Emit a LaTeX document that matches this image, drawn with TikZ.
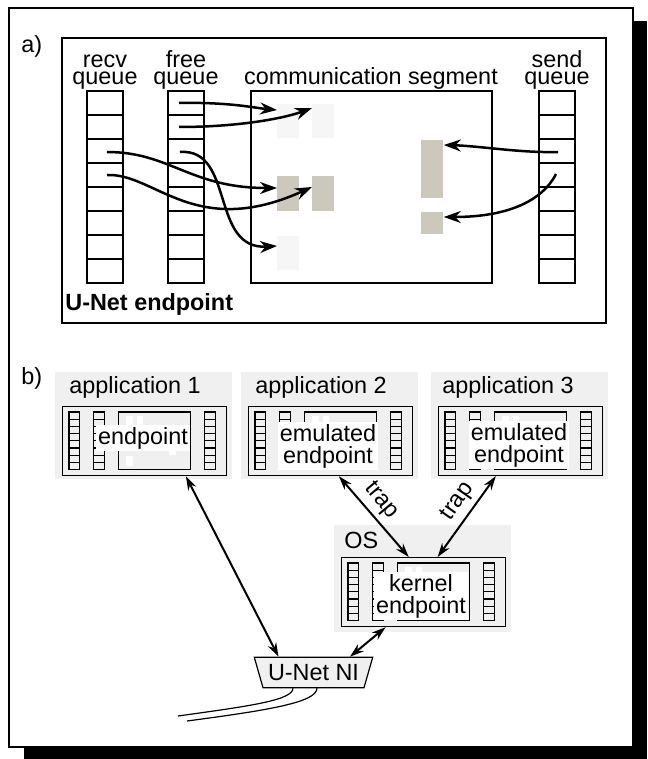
\documentclass[tikz,border=0pt]{standalone}
\usepackage{fontspec}
\setmainfont{Liberation Sans}
\usetikzlibrary{arrows.meta,calc,shapes.geometric}

\definecolor{appgray}{gray}{0.94}
\definecolor{lightblk}{gray}{0.965}
\definecolor{darkblk}{RGB}{204,200,188}

\tikzset{
  txt/.style={font=\fontsize{11.7}{14}\selectfont, inner sep=0.5pt},
  qlabel/.style={txt, align=center, font=\fontsize{11.7}{8.5}\selectfont, anchor=south},
  cell/.style={line width=.6pt},
  lblk/.style={fill=lightblk, inner sep=0pt, minimum width=11pt, anchor=north west},
  dblk/.style={lblk, fill=darkblk},
  flow/.style={line width=1.25pt, -{Stealth[length=8.5pt,width=6pt]}},
  link/.style={line width=1pt, {Stealth[length=7pt,width=4.5pt]}-{Stealth[length=7pt,width=4.5pt]}},
  appbox/.style={fill=appgray, minimum width=88.5pt, minimum height=53.5pt, inner sep=0pt, anchor=north west},
  minibox/.style={draw, line width=.6pt, minimum width=82pt, minimum height=34.5pt, inner sep=0pt, anchor=north west},
  eplabel/.style={txt, fill=white, align=center, font=\fontsize{11.7}{11}\selectfont, inner sep=1pt},
}

% the three queues and the segment of an endpoint
\newcommand{\queuecols}{%
  \foreach \qx in {87,168,539}{
    \foreach \k in {0,...,7}
      \draw[cell] (\qx,{91+24*\k}) rectangle ++(36,24);
  }
  \draw[cell] (251,91) rectangle (492,283);
}
% small copy of the endpoint, #1,#2 = top left of its box
\newcommand{\miniendpoint}[2]{%
  \begin{scope}[shift={({#1-19.1},{#2-21.3})}, scale=.3]
    \queuecols
    \foreach \bx/\by/\bh in {277/104/34, 312/104/34, 277/176/35, 312/176/35,
                             277/236/34, 421/140/58, 421/212/22}
      \fill[white] (\bx,\by) rectangle ++(22,\bh);
  \end{scope}}

\begin{document}
\begin{tikzpicture}[x=.5pt,y=-.5pt]
  \useasboundingbox (0,0) rectangle (647,759);
  % frame and shadow
  \fill (24,21) rectangle (647,759);
  \draw[fill=white, line width=1.2pt] (9,8) rectangle (633,747);

  % a) the U-Net endpoint
  \node[txt, anchor=base west] (la) at (20,53) {a)};
  \draw[line width=1.2pt] (62,38) rectangle (606,323);
  \queuecols
  \node[qlabel] (lrecv) at (105,91) {recv\\queue};
  \node[qlabel] (lfree) at (186,91) {free\\queue};
  \node[qlabel] (lseg) at (371,91) {communication segment};
  \node[qlabel] (lsend) at (557,91) {send\\queue};
  \node[txt, font=\fontsize{11.7}{14}\selectfont\bfseries, anchor=base west] (lep) at (64,310) {U-Net endpoint};

  % buffers in the segment
  \node[lblk, minimum height=17pt] (b1) at (277,104) {};
  \node[lblk, minimum height=17pt] (b2) at (312,104) {};
  \node[dblk, minimum height=17.5pt] (b3) at (277,176) {};
  \node[dblk, minimum height=17.5pt] (b4) at (312,176) {};
  \node[lblk, minimum height=17pt] (b5) at (277,236) {};
  \node[dblk, minimum height=29pt] (b6) at (421,140) {};
  \node[dblk, minimum height=11pt] (b7) at (421,212) {};

  \coordinate (f1) at (179,103);
  \coordinate (f2) at (179,127);
  \coordinate (f3) at (180,152);
  \coordinate (r3) at (107,152);
  \coordinate (r4) at (107,175);
  \coordinate (s3) at (558,152);
  \coordinate (s4) at (556,174);
  \draw[flow] (f1) .. controls (230,102) and (255,108) .. ($(b1.north west)+(0,6)$);
  \draw[flow] (f2) .. controls (240,127) and (285,118) .. ($(b2.north west)+(0,4)$);
  \draw[flow] (r3) .. controls (170,152) and (190,188) .. ($(b3.north west)+(0,12)$);
  \draw[flow] (r4) .. controls (155,173) and (195,240) .. ($(b4.north west)+(0,11)$);
  \draw[flow] (f3) .. controls (235,148) and (210,250) .. ($(b5.north west)+(0,10)$);
  \draw[flow] (s3) .. controls (520,153) and (480,146) .. ($(b6.north east)+(0,5)$);
  \draw[flow] (s4) .. controls (540,205) and (500,217) .. ($(b7.north east)+(0,5)$);

  % b) applications, OS and NI
  \node[txt, anchor=base west] (lb) at (20,384) {b)};
  \node[appbox] (app1) at (55,372) {};
  \node[appbox] (app2) at (241,372) {};
  \node[appbox] (app3) at (431,372) {};
  \node[appbox] (os) at (334,525) {};
  \node[txt, anchor=base west] (t1) at (68,393) {application 1};
  \node[txt, anchor=base west] (t2) at (254,393) {application 2};
  \node[txt, anchor=base west] (t3) at (441,393) {application 3};
  \node[txt, anchor=base west] (tos) at (343,548) {OS};

  \node[minibox] (ep1) at (62,406) {};
  \miniendpoint{62}{406}
  \node[eplabel] (e1) at (143,438) {endpoint};
  \node[minibox] (ep2) at (248,406) {};
  \miniendpoint{248}{406}
  \node[eplabel] (e2) at (328,446) {emulated\\endpoint};
  \node[minibox] (ep3) at (438,406) {};
  \miniendpoint{438}{406}
  \node[eplabel] (e3) at (519,445) {emulated\\endpoint};
  \node[minibox] (epk) at (341,557) {};
  \miniendpoint{341}{557}
  \node[eplabel] (ek) at (421,596) {kernel\\endpoint};

  \node[txt, trapezium, shape border rotate=180, trapezium angle=74, draw,
        fill=appgray, line width=.6pt, inner xsep=2.5pt, inner ysep=3.5pt] (ni) at (313.5,672.5) {U-Net NI};

  \draw[link] ($(ep1.south west)!.75!(ep1.south east)$) -- ($(ni.north)+(-35,0)$);
  \draw[link] ($(ep2.south west)!.55!(ep2.south east)$) -- ($(epk.north west)!.41!(epk.north east)$)
    node[txt, pos=.43, rotate=-50, anchor=south, inner sep=2.5pt] (trap1) {trap};
  \draw[link] ($(ep3.south west)!.35!(ep3.south east)$) -- ($(epk.north west)!.585!(epk.north east)$)
    node[txt, pos=.43, rotate=55, anchor=south, inner sep=2.5pt] (trap2) {trap};
  \draw[link] ($(epk.south west)!.27!(epk.south east)$) -- ($(ni.north)+(36.5,0)$);

  % network cable
  \coordinate (w1) at (178,716);
  \coordinate (w2) at (187,721);
  \draw[line width=.6pt] ($(ni.south)+(-20.5,0)$) .. controls ($(ni.south)+(-21,12)$) and (250,706) .. (w1);
  \draw[line width=.6pt] ($(ni.south)+(3.5,0)$) .. controls ($(ni.south)+(3,14)$) and (270,710) .. (w2);
\end{tikzpicture}
\end{document}
